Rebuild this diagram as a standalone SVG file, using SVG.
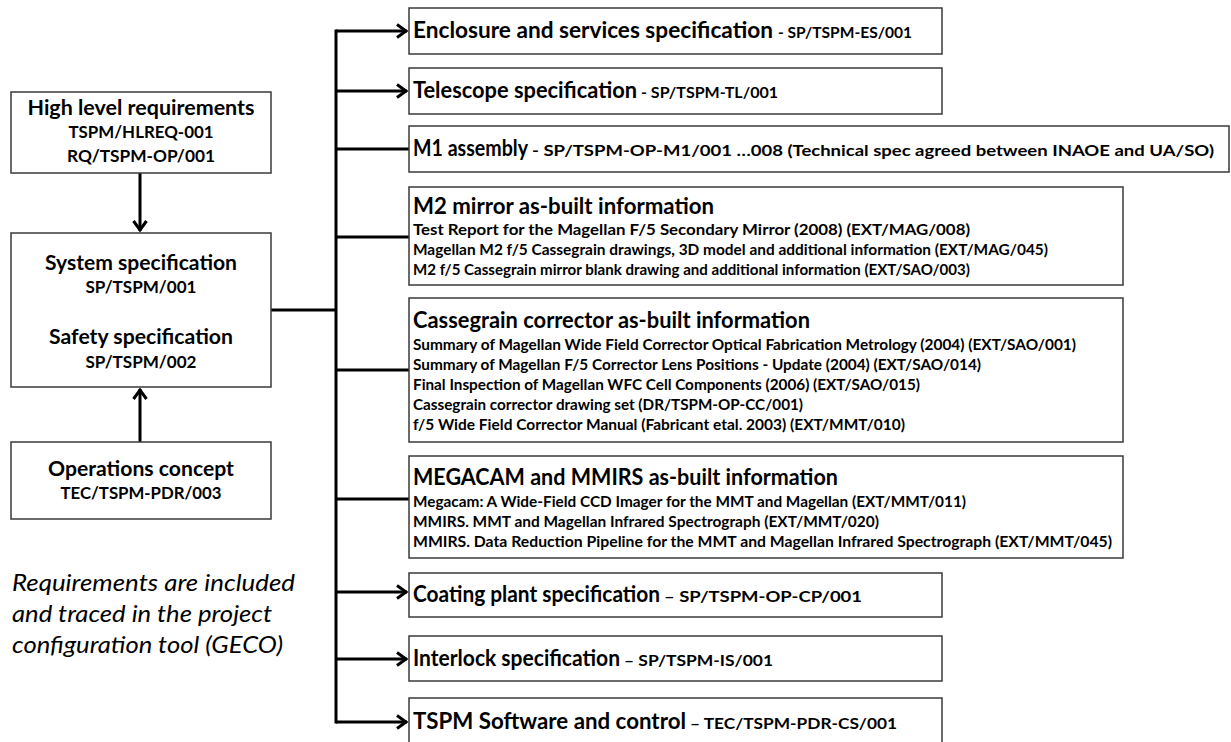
<svg xmlns="http://www.w3.org/2000/svg" width="1231" height="742" viewBox="0 0 1231 742">
<style>
.box{fill:#fff;stroke:#3a3a3a;stroke-width:1.5}
.ln{fill:none;stroke:#000;stroke-width:3}
text{font-family:Lato,"Liberation Sans",sans-serif;fill:#000}
.lh{font-size:21px;font-weight:700}
.lc{font-size:17px;font-weight:700}
.rh{font-size:22px;font-weight:700}
.rc{font-size:15px;font-weight:700}
.it{font-size:14.5px;font-weight:700}
.note{font-size:24px;font-style:italic}
</style>
<defs>
<marker id="arr" markerUnits="userSpaceOnUse" markerWidth="16" markerHeight="16" viewBox="0 0 16 16" refX="13" refY="8" orient="auto">
<path d="M3,1.5 L12,8 L3,14.5" fill="none" stroke="#000" stroke-width="3"/>
</marker>
</defs>
<g id="connectors">
<path class="ln" d="M336,31 V722" stroke-linecap="square"/>
<path class="ln" d="M271,310 H336"/>
<path class="ln" d="M336,31 H407" marker-end="url(#arr)"/>
<path class="ln" d="M336,91 H407" marker-end="url(#arr)"/>
<path class="ln" d="M336,149 H409"/>
<path class="ln" d="M336,237 H409"/>
<path class="ln" d="M336,370 H409"/>
<path class="ln" d="M336,499 H409"/>
<path class="ln" d="M336,592 H407" marker-end="url(#arr)"/>
<path class="ln" d="M336,659 H407" marker-end="url(#arr)"/>
<path class="ln" d="M336,722 H407" marker-end="url(#arr)"/>
<path class="ln" d="M140,173 V231" marker-end="url(#arr)"/>
<path class="ln" d="M140,442 V389" marker-end="url(#arr)"/>
</g>
<g id="hlreq">
<rect class="box" x="11" y="92" width="260" height="81"/>
<text class="lh" x="141" y="115" text-anchor="middle" textLength="227" lengthAdjust="spacingAndGlyphs">High level requirements</text>
<text class="lc" x="141" y="138" text-anchor="middle" textLength="145" lengthAdjust="spacingAndGlyphs">TSPM/HLREQ-001</text>
<text class="lc" x="141" y="162" text-anchor="middle" textLength="148" lengthAdjust="spacingAndGlyphs">RQ/TSPM-OP/001</text>
</g>
<g id="system">
<rect class="box" x="11" y="233" width="260" height="154"/>
<text class="lh" x="141" y="270" text-anchor="middle" textLength="192" lengthAdjust="spacingAndGlyphs">System specification</text>
<text class="lc" x="141" y="293" text-anchor="middle" textLength="111" lengthAdjust="spacingAndGlyphs">SP/TSPM/001</text>
<text class="lh" x="141" y="344" text-anchor="middle" textLength="184" lengthAdjust="spacingAndGlyphs">Safety specification</text>
<text class="lc" x="141" y="368" text-anchor="middle" textLength="111" lengthAdjust="spacingAndGlyphs">SP/TSPM/002</text>
</g>
<g id="ops">
<rect class="box" x="11" y="442" width="260" height="77"/>
<text class="lh" x="141" y="476" text-anchor="middle" textLength="186" lengthAdjust="spacingAndGlyphs">Operations concept</text>
<text class="lc" x="141" y="499" text-anchor="middle" textLength="161" lengthAdjust="spacingAndGlyphs">TEC/TSPM-PDR/003</text>
</g>
<g id="note">
<text class="note" x="12" y="591" textLength="283" lengthAdjust="spacingAndGlyphs">Requirements are included</text>
<text class="note" x="12" y="622" textLength="260" lengthAdjust="spacingAndGlyphs">and traced in the project</text>
<text class="note" x="12" y="653" textLength="271" lengthAdjust="spacingAndGlyphs">configuration tool (GECO)</text>
</g>
<g id="enclosure">
<rect class="box" x="409" y="8" width="533" height="46"/>
<text class="rh" x="413" y="38" textLength="360" lengthAdjust="spacingAndGlyphs">Enclosure and services specification</text>
<text class="rc" x="778" y="38" textLength="134" lengthAdjust="spacingAndGlyphs">- SP/TSPM-ES/001</text>
</g>
<g id="telescope">
<rect class="box" x="409" y="68" width="533" height="46"/>
<text class="rh" x="413" y="98" textLength="224" lengthAdjust="spacingAndGlyphs">Telescope specification</text>
<text class="rc" x="641" y="98" textLength="137" lengthAdjust="spacingAndGlyphs">- SP/TSPM-TL/001</text>
</g>
<g id="m1">
<rect class="box" x="409" y="126" width="820" height="46"/>
<text class="rh" x="413" y="156" textLength="115" lengthAdjust="spacingAndGlyphs">M1 assembly</text>
<text class="rc" x="532" y="156" textLength="682" lengthAdjust="spacingAndGlyphs" style="font-size:16px">- SP/TSPM-OP-M1/001 …008 (Technical spec agreed between INAOE and UA/SO)</text>
</g>
<g id="m2">
<rect class="box" x="409" y="187" width="714" height="98"/>
<text class="rh" x="413" y="214" textLength="301" lengthAdjust="spacingAndGlyphs">M2 mirror as-built information</text>
<text class="it" x="413" y="235" textLength="557" lengthAdjust="spacingAndGlyphs">Test Report for the Magellan F/5 Secondary Mirror (2008) (EXT/MAG/008)</text>
<text class="it" x="413" y="255" textLength="635" lengthAdjust="spacingAndGlyphs">Magellan M2 f/5 Cassegrain drawings, 3D model and additional information (EXT/MAG/045)</text>
<text class="it" x="413" y="275" textLength="557" lengthAdjust="spacingAndGlyphs">M2 f/5 Cassegrain mirror blank drawing and additional information (EXT/SAO/003)</text>
</g>
<g id="cassegrain">
<rect class="box" x="409" y="298" width="714" height="144"/>
<text class="rh" x="413" y="328" textLength="397" lengthAdjust="spacingAndGlyphs">Cassegrain corrector as-built information</text>
<text class="it" x="413" y="350" textLength="663" lengthAdjust="spacingAndGlyphs">Summary of Magellan Wide Field Corrector Optical Fabrication Metrology (2004) (EXT/SAO/001)</text>
<text class="it" x="413" y="370" textLength="568" lengthAdjust="spacingAndGlyphs">Summary of Magellan F/5 Corrector Lens Positions - Update (2004) (EXT/SAO/014)</text>
<text class="it" x="413" y="390" textLength="507" lengthAdjust="spacingAndGlyphs">Final Inspection of Magellan WFC Cell Components (2006) (EXT/SAO/015)</text>
<text class="it" x="413" y="410" textLength="390" lengthAdjust="spacingAndGlyphs">Cassegrain corrector drawing set (DR/TSPM-OP-CC/001)</text>
<text class="it" x="413" y="430" textLength="492" lengthAdjust="spacingAndGlyphs">f/5 Wide Field Corrector Manual (Fabricant etal. 2003) (EXT/MMT/010)</text>
</g>
<g id="megacam">
<rect class="box" x="409" y="456" width="714" height="102"/>
<text class="rh" x="413" y="485" textLength="425" lengthAdjust="spacingAndGlyphs">MEGACAM and MMIRS as-built information</text>
<text class="it" x="413" y="507" textLength="553" lengthAdjust="spacingAndGlyphs">Megacam: A Wide-Field CCD Imager for the MMT and Magellan (EXT/MMT/011)</text>
<text class="it" x="413" y="527" textLength="466" lengthAdjust="spacingAndGlyphs">MMIRS. MMT and Magellan Infrared Spectrograph (EXT/MMT/020)</text>
<text class="it" x="413" y="547" textLength="699" lengthAdjust="spacingAndGlyphs">MMIRS. Data Reduction Pipeline for the MMT and Magellan Infrared Spectrograph (EXT/MMT/045)</text>
</g>
<g id="coating">
<rect class="box" x="409" y="573" width="533" height="44"/>
<text class="rh" x="413" y="602" textLength="247" lengthAdjust="spacingAndGlyphs">Coating plant specification</text>
<text class="rc" x="664" y="602" textLength="198" lengthAdjust="spacingAndGlyphs">– SP/TSPM-OP-CP/001</text>
</g>
<g id="interlock">
<rect class="box" x="409" y="636" width="533" height="45"/>
<text class="rh" x="413" y="666" textLength="207" lengthAdjust="spacingAndGlyphs">Interlock specification</text>
<text class="rc" x="624" y="666" textLength="149" lengthAdjust="spacingAndGlyphs">– SP/TSPM-IS/001</text>
</g>
<g id="software">
<rect class="box" x="409" y="698" width="533" height="46"/>
<text class="rh" x="413" y="729" textLength="273" lengthAdjust="spacingAndGlyphs">TSPM Software and control</text>
<text class="rc" x="690" y="729" textLength="207" lengthAdjust="spacingAndGlyphs">– TEC/TSPM-PDR-CS/001</text>
</g>
</svg>
